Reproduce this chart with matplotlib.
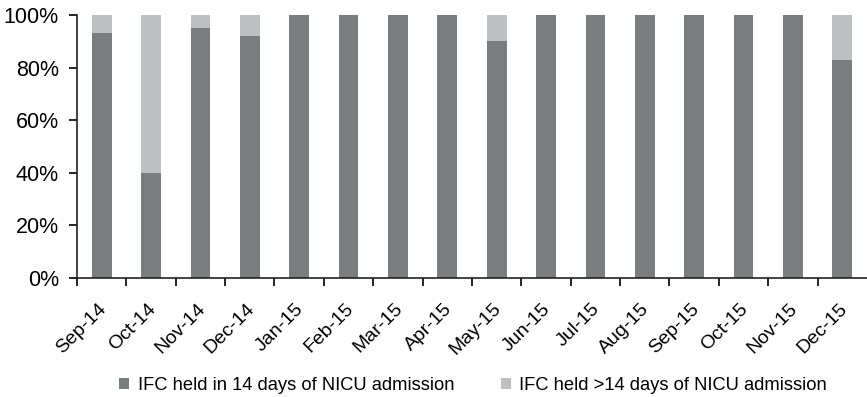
import matplotlib.pyplot as plt
import matplotlib.transforms as mtransforms
import numpy as np

plt.rcParams['font.family'] = ['Liberation Sans', 'DejaVu Sans']

months = ["Sep-14", "Oct-14", "Nov-14", "Dec-14", "Jan-15", "Feb-15", "Mar-15", "Apr-15",
          "May-15", "Jun-15", "Jul-15", "Aug-15", "Sep-15", "Oct-15", "Nov-15", "Dec-15"]
within14 = [93, 40, 95, 92, 100, 100, 100, 100, 90, 100, 100, 100, 100, 100, 100, 83]
over14 = [100 - v for v in within14]

dark = '#7b7c7e'
light = '#bebfc1'

fig = plt.figure(figsize=(8.67, 3.97), dpi=100)
ax = fig.add_axes([0.0888, 0.2997, 0.9112, 0.6625])

x = np.arange(len(months))
ax.bar(x, within14, width=0.4, color=dark,
       label='IFC held in 14 days of NICU admission')
ax.bar(x, over14, width=0.4, bottom=within14, color=light,
       label='IFC held >14 days of NICU admission')

ax.set_xlim(-0.5, len(months) - 0.5)
ax.set_ylim(0, 100)
ax.set_yticks(range(0, 101, 20))
ax.set_yticklabels([f"{v}%" for v in range(0, 101, 20)], fontsize=15.5)

# ticks sit between the bars, labels under the bars
ax.set_xticks(np.arange(len(months)) - 0.5)
ax.set_xticklabels([])
ax.set_xticks(x, minor=True)
ax.set_xticklabels(months, minor=True, rotation=45, ha='right', rotation_mode='anchor', fontsize=14)
ax.tick_params(axis='x', which='minor', length=0, pad=16)
ax.tick_params(axis='x', which='major', length=6, direction='out', width=1.2)
ax.tick_params(axis='y', length=6, direction='out', width=1.2, pad=7)

shift = mtransforms.ScaledTranslation(-4 / 100, 0, fig.dpi_scale_trans)
for lbl in ax.get_xticklabels(minor=True):
    lbl.set_transform(lbl.get_transform() + shift)

for s in ['top', 'right']:
    ax.spines[s].set_visible(False)
for s in ['left', 'bottom']:
    ax.spines[s].set_linewidth(1.2)
    ax.spines[s].set_color('#222222')

fig.legend(loc='lower center', bbox_to_anchor=(0.5456, -0.033), ncol=2, frameon=False,
           fontsize=13.2, handlelength=0.55, handleheight=0.55, columnspacing=2.55, handletextpad=0.45)

fig.savefig('out.png', dpi=100)
